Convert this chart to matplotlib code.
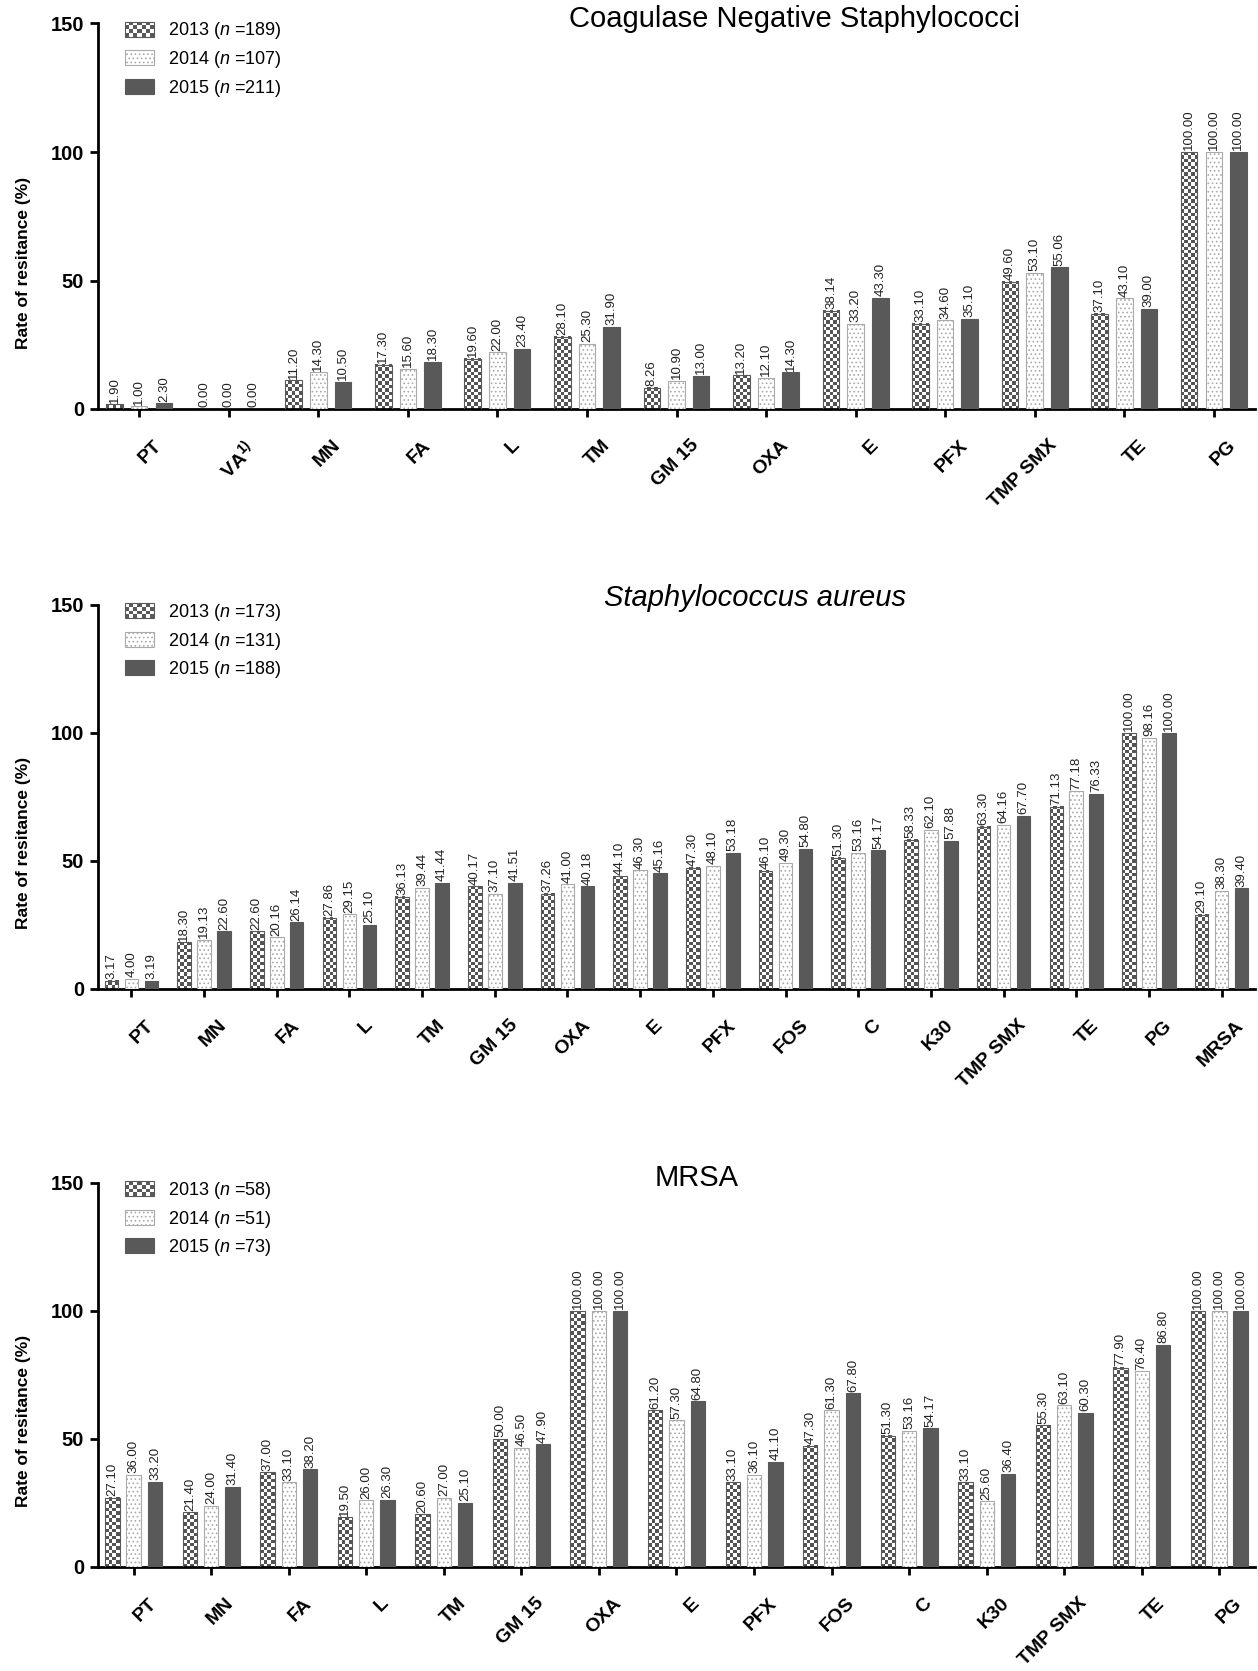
import numpy as np
import matplotlib
matplotlib.use('Agg')
import matplotlib.pyplot as plt
from matplotlib.patches import Rectangle
from matplotlib.legend_handler import HandlerBase
from matplotlib.transforms import ScaledTranslation

plt.rcParams['font.family'] = ['Liberation Sans', 'DejaVu Sans']
plt.rcParams['mathtext.fontset'] = 'custom'
plt.rcParams['mathtext.rm'] = 'Liberation Sans'
plt.rcParams['mathtext.it'] = 'Liberation Sans:italic'
plt.rcParams['mathtext.bf'] = 'Liberation Sans:bold'
plt.rcParams['hatch.linewidth'] = 0.7

# ---- data -------------------------------------------------------------
years = ['2013', '2014', '2015']

cons_labels = ['PT', r'VA$^{\mathbf{1)}}$', 'MN', 'FA', 'L', 'TM', 'GM 15', 'OXA',
               'E', 'PFX', 'TMP SMX', 'TE', 'PG']
cons_n = [189, 107, 211]
cons_2013 = [1.90, 0.00, 11.20, 17.30, 19.60, 28.10, 8.26, 13.20, 38.14, 33.10, 49.60, 37.10, 100.00]
cons_2014 = [1.00, 0.00, 14.30, 15.60, 22.00, 25.30, 10.90, 12.10, 33.20, 34.60, 53.10, 43.10, 100.00]
cons_2015 = [2.30, 0.00, 10.50, 18.30, 23.40, 31.90, 13.00, 14.30, 43.30, 35.10, 55.06, 39.00, 100.00]

sa_labels = ['PT', 'MN', 'FA', 'L', 'TM', 'GM 15', 'OXA', 'E', 'PFX', 'FOS', 'C',
             'K30', 'TMP SMX', 'TE', 'PG', 'MRSA']
sa_n = [173, 131, 188]
sa_2013 = [3.17, 18.30, 22.60, 27.86, 36.13, 40.17, 37.26, 44.10, 47.30, 46.10, 51.30,
           58.33, 63.30, 71.13, 100.00, 29.10]
sa_2014 = [4.00, 19.13, 20.16, 29.15, 39.44, 37.10, 41.00, 46.30, 48.10, 49.30, 53.16,
           62.10, 64.16, 77.18, 98.16, 38.30]
sa_2015 = [3.19, 22.60, 26.14, 25.10, 41.44, 41.51, 40.18, 45.16, 53.18, 54.80, 54.17,
           57.88, 67.70, 76.33, 100.00, 39.40]

mrsa_labels = ['PT', 'MN', 'FA', 'L', 'TM', 'GM 15', 'OXA', 'E', 'PFX', 'FOS', 'C',
               'K30', 'TMP SMX', 'TE', 'PG']
mrsa_n = [58, 51, 73]
mrsa_2013 = [27.10, 21.40, 37.00, 19.50, 20.60, 50.00, 100.00, 61.20, 33.10, 47.30,
             51.30, 33.10, 55.30, 77.90, 100.00]
mrsa_2014 = [36.00, 24.00, 33.10, 26.00, 27.00, 46.50, 100.00, 57.30, 36.10, 61.30,
             53.16, 25.60, 63.10, 76.40, 100.00]
mrsa_2015 = [33.20, 31.40, 38.20, 26.30, 25.10, 47.90, 100.00, 64.80, 41.10, 67.80,
             54.17, 36.40, 60.30, 86.80, 100.00]

DARK = '#595959'
LIGHT_EDGE = '#aaaaaa'
SQ = 3.4  # checker square size in pixels


class CheckerHandler(HandlerBase):
    # draws a checkerboard swatch in the legend
    def create_artists(self, legend, orig_handle, xdescent, ydescent,
                       width, height, fontsize, trans):
        arts = [Rectangle((-xdescent, -ydescent), width, height,
                          facecolor='white', edgecolor='none', transform=trans)]
        nx, ny = 7, 4
        sw, sh = width / nx, height / ny
        for i in range(nx):
            for j in range(ny):
                if (i + j) % 2 == 0:
                    arts.append(Rectangle((-xdescent + i * sw, -ydescent + j * sh), sw, sh,
                                          facecolor=DARK, edgecolor='none', transform=trans))
        arts.append(Rectangle((-xdescent, -ydescent), width, height, facecolor='none',
                              edgecolor=DARK, lw=0.8, transform=trans))
        return arts


def checker_fill(ax, bars):
    for b in bars:
        h = b.get_height()
        if h <= 0:
            continue
        x0 = b.get_x()
        x1 = x0 + b.get_width()
        (px0, py0), (px1, py1) = ax.transData.transform([[x0, 0], [x1, h]])
        cols = max(1, int(round((px1 - px0) / SQ)))
        rows = max(1, int(round((py1 - py0) / SQ)))
        chk = np.add.outer(np.arange(rows), np.arange(cols)) % 2
        img = np.where(chk[..., None] == 0, 0.33, 1.0) * np.ones(3)
        ax.imshow(img, extent=(x0, x1, 0, h), origin='lower', aspect='auto',
                  interpolation='nearest', zorder=2)


def panel(fig, rect, labels, v13, v14, v15, n, title, title_xy, italic=False):
    ax = fig.add_axes(rect)
    x = np.arange(len(labels))
    w = 0.185
    off = 0.275
    ax.set_xlim(-0.46, len(labels) - 1 + 0.46)
    ax.set_ylim(0, 150)

    b13 = ax.bar(x - off, v13, w, facecolor='white', edgecolor=DARK, lw=0.8, zorder=3,
                 fill=False)
    b14 = ax.bar(x, v14, w, facecolor='white', edgecolor=LIGHT_EDGE, hatch='....',
                 lw=0.8, zorder=3)
    b15 = ax.bar(x + off, v15, w, facecolor=DARK, edgecolor=DARK, lw=0.8, zorder=3)
    checker_fill(ax, b13)
    ax.set_xlim(-0.46, len(labels) - 1 + 0.46)
    ax.set_ylim(0, 150)

    for bars, vals in ((b13, v13), (b14, v14), (b15, v15)):
        for b, v in zip(bars, vals):
            ax.text(b.get_x() + b.get_width() / 2, v + 0.6, f'{v:.2f}', rotation=90,
                    ha='center', va='bottom', fontsize=9.5, color='#222222')

    for s in ('top', 'right'):
        ax.spines[s].set_visible(False)
    for s in ('left', 'bottom'):
        ax.spines[s].set_linewidth(2)
    ax.set_yticks([0, 50, 100, 150])
    ax.tick_params(axis='both', direction='out', length=6, width=2)
    ax.tick_params(axis='y', labelsize=14.5, pad=4)
    for t in ax.get_yticklabels():
        t.set_fontweight('bold')
    ax.set_xticks(x)
    ax.set_xticklabels(labels, rotation=45, ha='right', va='top', rotation_mode='anchor',
                       fontsize=14, fontweight='bold')
    ax.tick_params(axis='x', pad=14)
    for t in ax.get_xticklabels():
        t.set_transform(t.get_transform() + ScaledTranslation(14 / 100, 0, fig.dpi_scale_trans))

    ax.set_ylabel('Rate of resitance (%)', fontsize=12.5, fontweight='bold')
    ax.yaxis.set_label_coords(-0.058, 0.38)

    leg_labels = [rf'{yr} ($\mathit{{n}}$ ={k})' for yr, k in zip(years, n)]
    ax.legend([b13, b14, b15], leg_labels, handler_map={b13: CheckerHandler()},
              loc='upper left', bbox_to_anchor=(0.023, 1.008), frameon=False,
              fontsize=13, handlelength=1.65, handleheight=0.9, handletextpad=0.75,
              labelspacing=0.42, borderpad=0, borderaxespad=0)

    fig.text(title_xy[0] / 1258, 1 - title_xy[1] / 1671, title, ha='center', va='center',
             fontsize=21, fontstyle='italic' if italic else 'normal')
    return ax


fig = plt.figure(figsize=(12.58, 16.71), dpi=100)
L = 98 / 1258
W = 1157 / 1258
panel(fig, [L, 1 - 409 / 1671, W, 385.5 / 1671], cons_labels, cons_2013, cons_2014,
      cons_2015, cons_n, 'Coagulase Negative Staphylococci', (795, 19))
panel(fig, [L, 1 - 989 / 1671, W, 384 / 1671], sa_labels, sa_2013, sa_2014, sa_2015,
      sa_n, 'Staphylococcus aureus', (755, 598), italic=True)
panel(fig, [L, 1 - 1567 / 1671, W, 384 / 1671], mrsa_labels, mrsa_2013, mrsa_2014,
      mrsa_2015, mrsa_n, 'MRSA', (697, 1178))

fig.savefig('out.png', dpi=100)
